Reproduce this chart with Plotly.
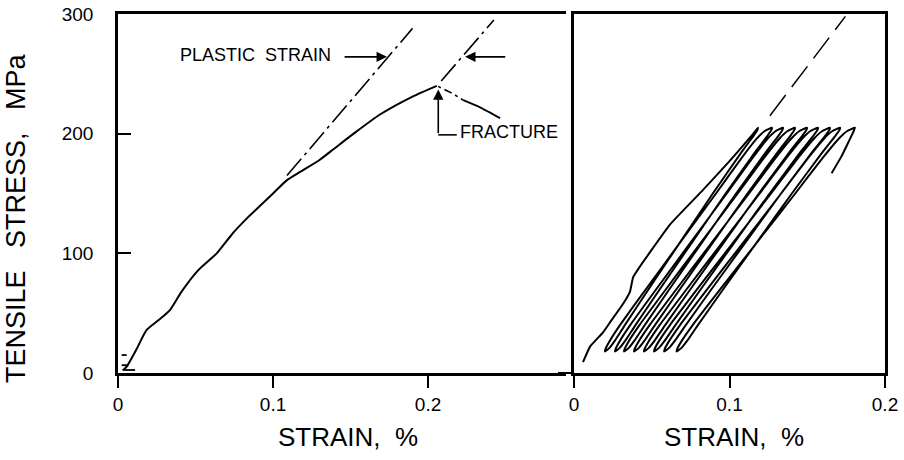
import plotly.graph_objects as go

# ---------------- data (strain in %, stress in MPa) ----------------
# Left panel: monotonic tensile curve up to fracture
tensile_strain = [0.003, 0.0056, 0.012, 0.0185, 0.026, 0.0335, 0.041, 0.0518, 0.0637, 0.0742,
                  0.083, 0.100, 0.1088, 0.1174, 0.130, 0.139, 0.152, 0.169, 0.190, 0.2056]
tensile_stress = [2, 5.3, 20, 36, 44, 52.6, 68, 86, 100, 117,
                  129, 150, 161, 168, 178, 187, 200, 216, 231, 240]

# small trace marks near the origin
origin_strain = [0.0024, 0.0056, None, 0.0024, 0.0065, None, 0.004, 0.011]
origin_stress = [15, 15, None, 6.5, 6.5, None, 2.5, 2.5]

# post-fracture trace (dash-dot part, then solid part)
postfrac_dash_strain = [0.2065, 0.2153, 0.2227]
postfrac_dash_stress = [239.5, 234, 228]
postfrac_solid_strain = [0.2227, 0.2335, 0.2465]
postfrac_solid_stress = [228, 222, 213]

# elastic (modulus) lines used to define plastic strain
elastic1_strain = [0.109, 0.190]
elastic1_stress = [165, 288]
elastic2_strain = [0.2085, 0.2425]
elastic2_stress = [244, 295]

# Right panel: cyclic loading
first_load_strain = [0.0058, 0.0103, 0.0187, 0.023, 0.0317, 0.036, 0.038, 0.0424, 0.0489,
                     0.0617, 0.083, 0.100, 0.112, 0.1165, 0.1183]
first_load_stress = [9, 22, 34, 42, 58, 68, 80, 89, 101, 124, 153, 177, 195, 202, 205]

peak_strain = [0.1183, 0.1273, 0.1344, 0.1421, 0.1498, 0.1569, 0.1646, 0.1711, 0.1807]
valley_strain = [0.0199, 0.0264, 0.0322, 0.0386, 0.0450, 0.0515, 0.0580, 0.0660]

# branch profiles read from the loops (fraction of branch strain span vs stress)
load_stress = [18, 20, 26, 40, 70, 110, 150, 180, 196, 202, 205]
load_frac = [0, 0.003, 0.025, 0.09, 0.245, 0.455, 0.665, 0.82, 0.91, 0.955, 1.0]
unload_stress = [205, 203, 198, 185, 150, 110, 70, 40, 27, 21, 18]
unload_frac = [0, 0.004, 0.03, 0.105, 0.295, 0.505, 0.715, 0.87, 0.935, 0.97, 1.0]

final_unload_strain = [0.1807, 0.1795, 0.1765, 0.1720, 0.1657]
final_unload_stress = [205, 201, 193, 181, 167]

reference_line_strain = [0.126, 0.1745]
reference_line_stress = [215, 298]

# tick labels
x_ticks = [0, 0.1, 0.2]
x_ticktext = ["0", "0.1", "0.2"]
y_ticks = [0, 100, 200, 300]
y_ticktext = ["0", "100", "200", "300"]

# ---------------- build cyclic path ----------------
cyc_x = list(first_load_strain)
cyc_y = list(first_load_stress)
for i, b in enumerate(valley_strain):
    t = peak_strain[i]
    for s, f in zip(unload_stress[1:], unload_frac[1:]):
        cyc_x.append(t - f * (t - b))
        cyc_y.append(s)
    t_next = peak_strain[i + 1]
    for s, f in zip(load_stress[1:], load_frac[1:]):
        cyc_x.append(b + f * (t_next - b))
        cyc_y.append(s)
cyc_x += final_unload_strain[1:]
cyc_y += final_unload_stress[1:]

# ---------------- figure ----------------
FONT = "Liberation Sans, Arial, Helvetica, sans-serif"
BLACK = "#000000"
W, H = 904, 460

fig = go.Figure()

def line(x, y, xa="x", ya="y", width=2.0, dash="solid", shape="linear", smoothing=0.6):
    ln = dict(color=BLACK, width=width, dash=dash, shape=shape)
    if shape == "spline":
        ln["smoothing"] = smoothing
    fig.add_trace(go.Scatter(x=x, y=y, mode="lines", xaxis=xa, yaxis=ya, line=ln,
                             hoverinfo="skip", showlegend=False))

line(tensile_strain, tensile_stress, width=2.0, shape="spline")
line(origin_strain, origin_stress, width=1.8)
line(elastic1_strain, elastic1_stress, width=1.6, dash="22px,5px,3px,5px")
line(elastic2_strain, elastic2_stress, width=1.6, dash="22px,5px,3px,5px")
line(postfrac_dash_strain, postfrac_dash_stress, width=1.6, dash="3px,4px,8px,4px")
line(postfrac_solid_strain, postfrac_solid_stress, width=1.8, shape="spline")

line(cyc_x, cyc_y, "x2", "y2", width=2.0, shape="spline", smoothing=0.4)
line(reference_line_strain, reference_line_stress, "x2", "y2", width=1.5, dash="26px,10px")

axis_common = dict(showline=True, linecolor=BLACK, linewidth=2.5, showgrid=False,
                   zeroline=False, tickcolor=BLACK, tickwidth=2, automargin=False,
                   tickfont=dict(family=FONT, size=19, color=BLACK))

fig.update_layout(
    width=W, height=H,
    margin=dict(l=0, r=0, t=0, b=0, autoexpand=False),
    paper_bgcolor="white", plot_bgcolor="white",
    showlegend=False,
    xaxis=dict(domain=[118 / W, 566 / W], range=[0, 0.289], anchor="y",
               tickmode="array", tickvals=x_ticks, ticktext=x_ticktext,
               ticks="outside", ticklen=12, mirror=True, **axis_common),
    yaxis=dict(domain=[87 / H, 446 / H], range=[0, 300], anchor="x",
               tickmode="array", tickvals=y_ticks, ticktext=y_ticktext,
               ticks="inside", ticklen=13, ticklabelstandoff=18, **axis_common),
    xaxis2=dict(domain=[574 / W, 885 / W], range=[0, 0.2], anchor="y2",
                tickmode="array", tickvals=x_ticks, ticktext=x_ticktext,
                ticks="outside", ticklen=12, mirror=True, **axis_common),
    yaxis2=dict(domain=[87 / H, 446 / H], range=[0, 300], anchor="x2",
                tickmode="array", tickvals=[0], showticklabels=False,
                ticks="outside", ticklen=13, mirror=True, **axis_common),
)

ann_font = dict(family=FONT, size=18, color=BLACK)
title_font = dict(family=FONT, size=26, color=BLACK)
NB = "\u00a0"

annotations = [
    dict(x=0.1385, y=265.5, xref="x", yref="y", text="PLASTIC" + NB + NB + "STRAIN",
         showarrow=False, xanchor="right", yanchor="middle", font=ann_font),
    dict(x=0.1735, y=264.2, xref="x", yref="y", ax=0.1452, ay=264.2, axref="x", ayref="y",
         text="", showarrow=True, arrowhead=2, arrowsize=1.3, arrowwidth=1.6, arrowcolor=BLACK),
    dict(x=0.2239, y=264.2, xref="x", yref="y", ax=0.2508, ay=264.2, axref="x", ayref="y",
         text="", showarrow=True, arrowhead=2, arrowsize=1.3, arrowwidth=1.6, arrowcolor=BLACK),
    dict(x=0.2066, y=237, xref="x", yref="y", ax=0.2066, ay=199, axref="x", ayref="y",
         text="", showarrow=True, arrowhead=2, arrowsize=1.3, arrowwidth=1.6, arrowcolor=BLACK),
    dict(x=0.2194, y=201.5, xref="x", yref="y", text="FRACTURE",
         showarrow=False, xanchor="left", yanchor="middle", font=ann_font),
    dict(x=348 / W, y=(H - 437) / H, xref="paper", yref="paper",
         text="STRAIN," + NB + NB + "%",
         showarrow=False, xanchor="center", yanchor="middle", font=title_font),
    dict(x=734 / W, y=(H - 437) / H, xref="paper", yref="paper",
         text="STRAIN," + NB + NB + "%",
         showarrow=False, xanchor="center", yanchor="middle", font=title_font),
    dict(x=16 / W, y=(H - 218) / H, xref="paper", yref="paper",
         text="TENSILE" + NB * 3 + "STRESS," + NB * 3 + "MPa", textangle=-90,
         showarrow=False, xanchor="center", yanchor="middle",
         font=dict(family=FONT, size=27, color=BLACK)),
]
fig.update_layout(annotations=annotations)

fig.add_shape(type="line", xref="x", yref="y", x0=0.2066, y0=199, x1=0.2185, y1=199,
              line=dict(color=BLACK, width=1.6))

fig.write_html("out.html")
